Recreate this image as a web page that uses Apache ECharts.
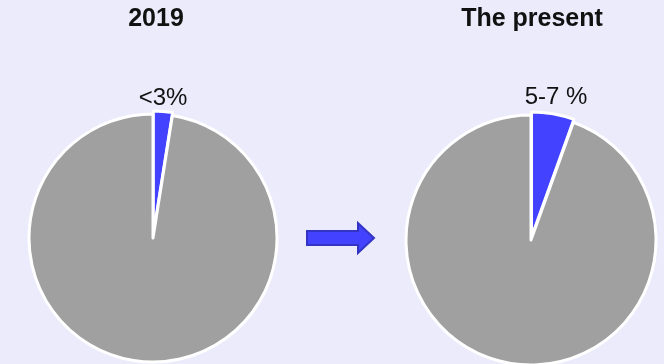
<!DOCTYPE html>
<html>
<head>
<meta charset="utf-8">
<style>
  html, body { margin: 0; padding: 0; background: #ecebfc; }
  #chart { width: 664px; height: 364px; }
</style>
<script src="https://cdn.jsdelivr.net/npm/echarts@6/dist/echarts.min.js"></script>
</head>
<body>
<div id="chart"></div>
<script>
// Share of the highlighted segment, then and now
const periods = ['2019', 'The present'];
const shareValues = [2.5, 5.5];
const shareLabels = ['<3%', '5-7 %'];
const segmentNames = ['Share', 'Rest'];

const BLUE = '#4242ff';
const GREY = '#a0a0a0';

const chart = echarts.init(document.getElementById('chart'));

const pieCenters = [[153, 238], [531, 240]];
const pieRadius = [124, 125];
const headingX = [151, 527];
const labelX = [158, 551];
const labelY = [81, 80];

const titles = [];
const series = [];
periods.forEach(function (p, i) {
  titles.push({
    text: p,
    left: headingX[i],
    top: 2,
    textAlign: 'center',
    textStyle: { fontFamily: 'Liberation Sans', fontWeight: 'bold', fontSize: 25, color: '#111' }
  });
  titles.push({
    text: shareLabels[i],
    left: labelX[i],
    top: labelY[i],
    textAlign: 'center',
    textStyle: { fontFamily: 'Liberation Sans', fontWeight: 'normal', fontSize: 24, color: '#111' }
  });
  series.push({
    type: 'pie',
    center: pieCenters[i],
    radius: pieRadius[i],
    startAngle: 90,
    clockwise: true,
    selectedMode: 'single',
    selectedOffset: 3,
    animation: false,
    label: { show: false },
    labelLine: { show: false },
    emphasis: { disabled: true },
    itemStyle: { borderColor: '#ffffff', borderWidth: 3 },
    data: [
      { name: segmentNames[0], value: shareValues[i], selected: true, itemStyle: { color: BLUE } },
      { name: segmentNames[1], value: 100 - shareValues[i], itemStyle: { color: GREY } }
    ]
  });
});

chart.setOption({
  backgroundColor: '#ecebfc',
  title: titles,
  series: series,
  graphic: [{
    type: 'polygon',
    shape: {
      points: [[307, 231], [358, 231], [358, 223], [374, 238], [358, 253], [358, 245], [307, 245]]
    },
    style: { fill: BLUE, stroke: '#3434c4', lineWidth: 2 }
  }]
});
</script>
</body>
</html>
